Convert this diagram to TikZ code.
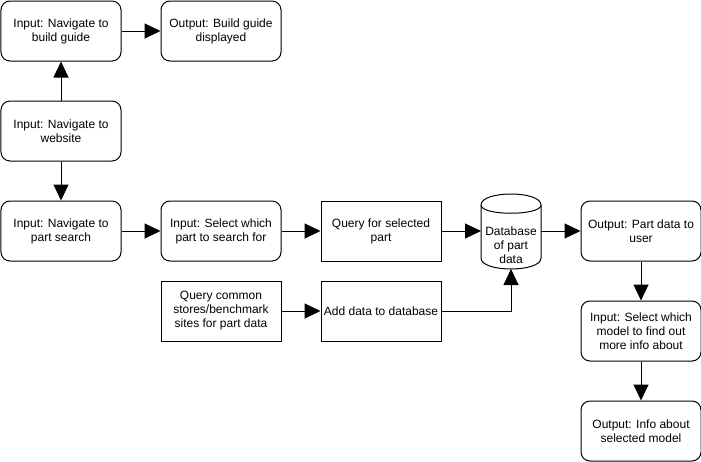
\documentclass[tikz,border=0pt]{standalone}
\usepackage{fontspec}
\setmainfont{Liberation Sans}
\usetikzlibrary{arrows.meta}
\begin{document}
\begin{tikzpicture}[x=1pt,y=-1pt,line width=1pt,
  every node/.style={font=\fontsize{12}{14}\selectfont,align=center,inner sep=0pt},
  stepround/.style={draw,rectangle,rounded corners=9pt,minimum width=120pt,minimum height=60pt},
  stepsquare/.style={draw,rectangle,minimum width=120pt,minimum height=60pt},
  flow/.style={-{Triangle[length=16pt,width=15pt]}}]
\useasboundingbox (-1,-1) rectangle (700,460);

% rounded process steps
\node[stepround] (guide) at (60,30) {Input: Navigate to\\build guide};
\node[stepround] (guideout) at (220,30) {Output: Build guide\\displayed};
\node[stepround] (site) at (60,130) {Input: Navigate to\\website};
\node[stepround] (search) at (60,230) {Input: Navigate to\\part search};
\node[stepround] (select) at (220,230) {Input: Select which\\part to search for};
\node[stepround] (partout) at (640,230) {Output: Part data to\\user};
\node[stepround] (model) at (640,330) {Input: Select which\\model to find out\\more info about};
\node[stepround] (info) at (640,430) {Output: Info about\\selected model};

% square back-end steps
\node[stepsquare] (query) at (380,230) {Query for selected\\part};
\node[stepsquare] (stores) at (220,310) {Query common\\stores/benchmark\\sites for part data};
\node[stepsquare] (add) at (380,310) {Add data to database};

% database cylinder
\draw (480,204) .. controls (480,189.33) and (540,189.33) .. (540,204)
  -- (540,257) .. controls (540,271.67) and (480,271.67) .. (480,257) -- cycle;
\draw (480,204) .. controls (480,215) and (540,215) .. (540,204);
\node (db) at (510,244) {Database\\of part\\data};
\coordinate (dbw) at (480,230);
\coordinate (dbe) at (540,230);
\coordinate (dbs) at (510,268);

% connectors
\draw[flow] (guide) -- (guideout);
\draw[flow] (site) -- (guide);
\draw[flow] (site) -- (search);
\draw[flow] (search) -- (select);
\draw[flow] (select) -- (query);
\draw[flow] (query) -- (dbw);
\draw[flow] (dbe) -- (partout);
\draw[flow] (stores) -- (add);
\draw[flow] (add.east) -| (dbs);
\draw[flow] (partout) -- (model);
\draw[flow] (model) -- (info);
\end{tikzpicture}
\end{document}
